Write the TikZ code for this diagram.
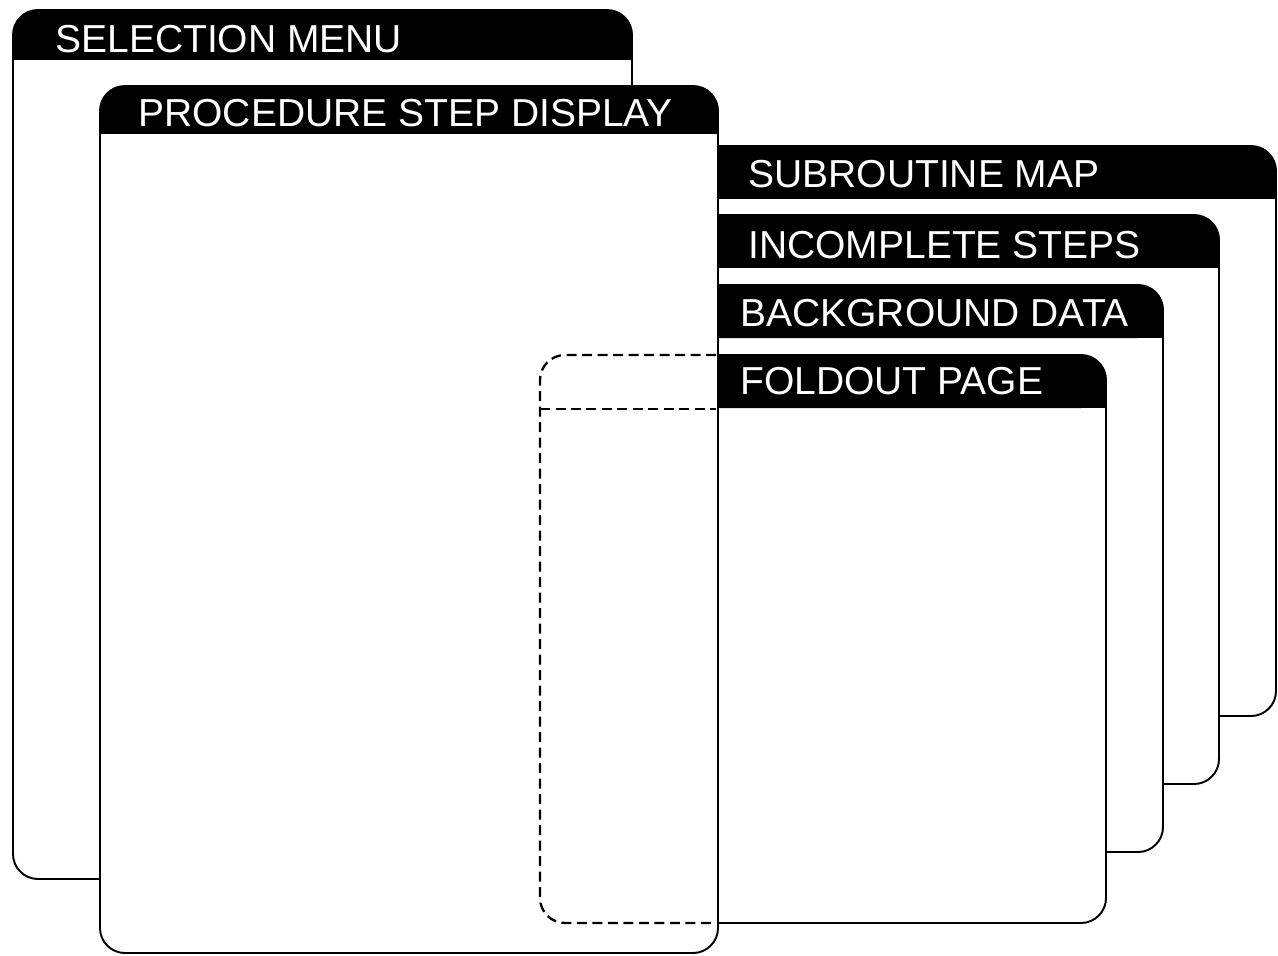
\documentclass[tikz,border=0pt]{standalone}
\usepackage{fontspec}
\setmainfont{Liberation Sans}
\begin{document}
\begin{tikzpicture}[x=0.02cm,y=-0.02cm,
  border/.style={draw=black,line width=1.1pt,rounded corners=0.5cm},
  bar/.style={fill=black,rounded corners=0.5cm},
  title/.style={text=white,anchor=base west,inner sep=0pt,font=\fontsize{22.2pt}{26pt}\selectfont},
  hidden/.style={draw=black,line width=1.3pt,dash pattern=on 0.2cm off 0.11cm}]
\useasboundingbox (0,0) rectangle (1278,956);
\newcommand{\mywin}[5]{%
  \fill[white,rounded corners=0.5cm] (#1,#2) rectangle (#3,#4);
  \fill[bar] (#1,#2) rectangle (#3,#5);
  \fill[black] (#1,#2+26) rectangle (#3,#5);
  \draw[border] (#1,#2) rectangle (#3,#4);
}
% right-hand stack (back to front)
\mywin{600}{146}{1276}{716}{199}
\node[title] (sub) at (748,188) {SUBROUTINE MAP};
\mywin{600}{215}{1219}{784}{268}
\node[title] (inc) at (748,258) {INCOMPLETE STEPS};
\mywin{600}{285}{1163}{852}{338}
\node[title] (bkg) at (740,326) {BACKGROUND DATA};
\mywin{540}{355}{1106}{923}{408}
\node[title] (fold) at (740,394) {FOLDOUT PAGE};
% left-hand stack
\mywin{13}{10}{632}{879}{60}
\node[title] (sel) at (55,53) {SELECTION MENU};
\mywin{100}{86}{718}{953}{134}
\node[title] (proc) at (138,127) {PROCEDURE STEP DISPLAY};
% hidden outline of foldout page
\draw[hidden,rounded corners=0.5cm] (716,355) -- (540,355) -- (540,923) -- (716,923);
\draw[hidden] (540,409) -- (716,409);
\end{tikzpicture}
\end{document}
